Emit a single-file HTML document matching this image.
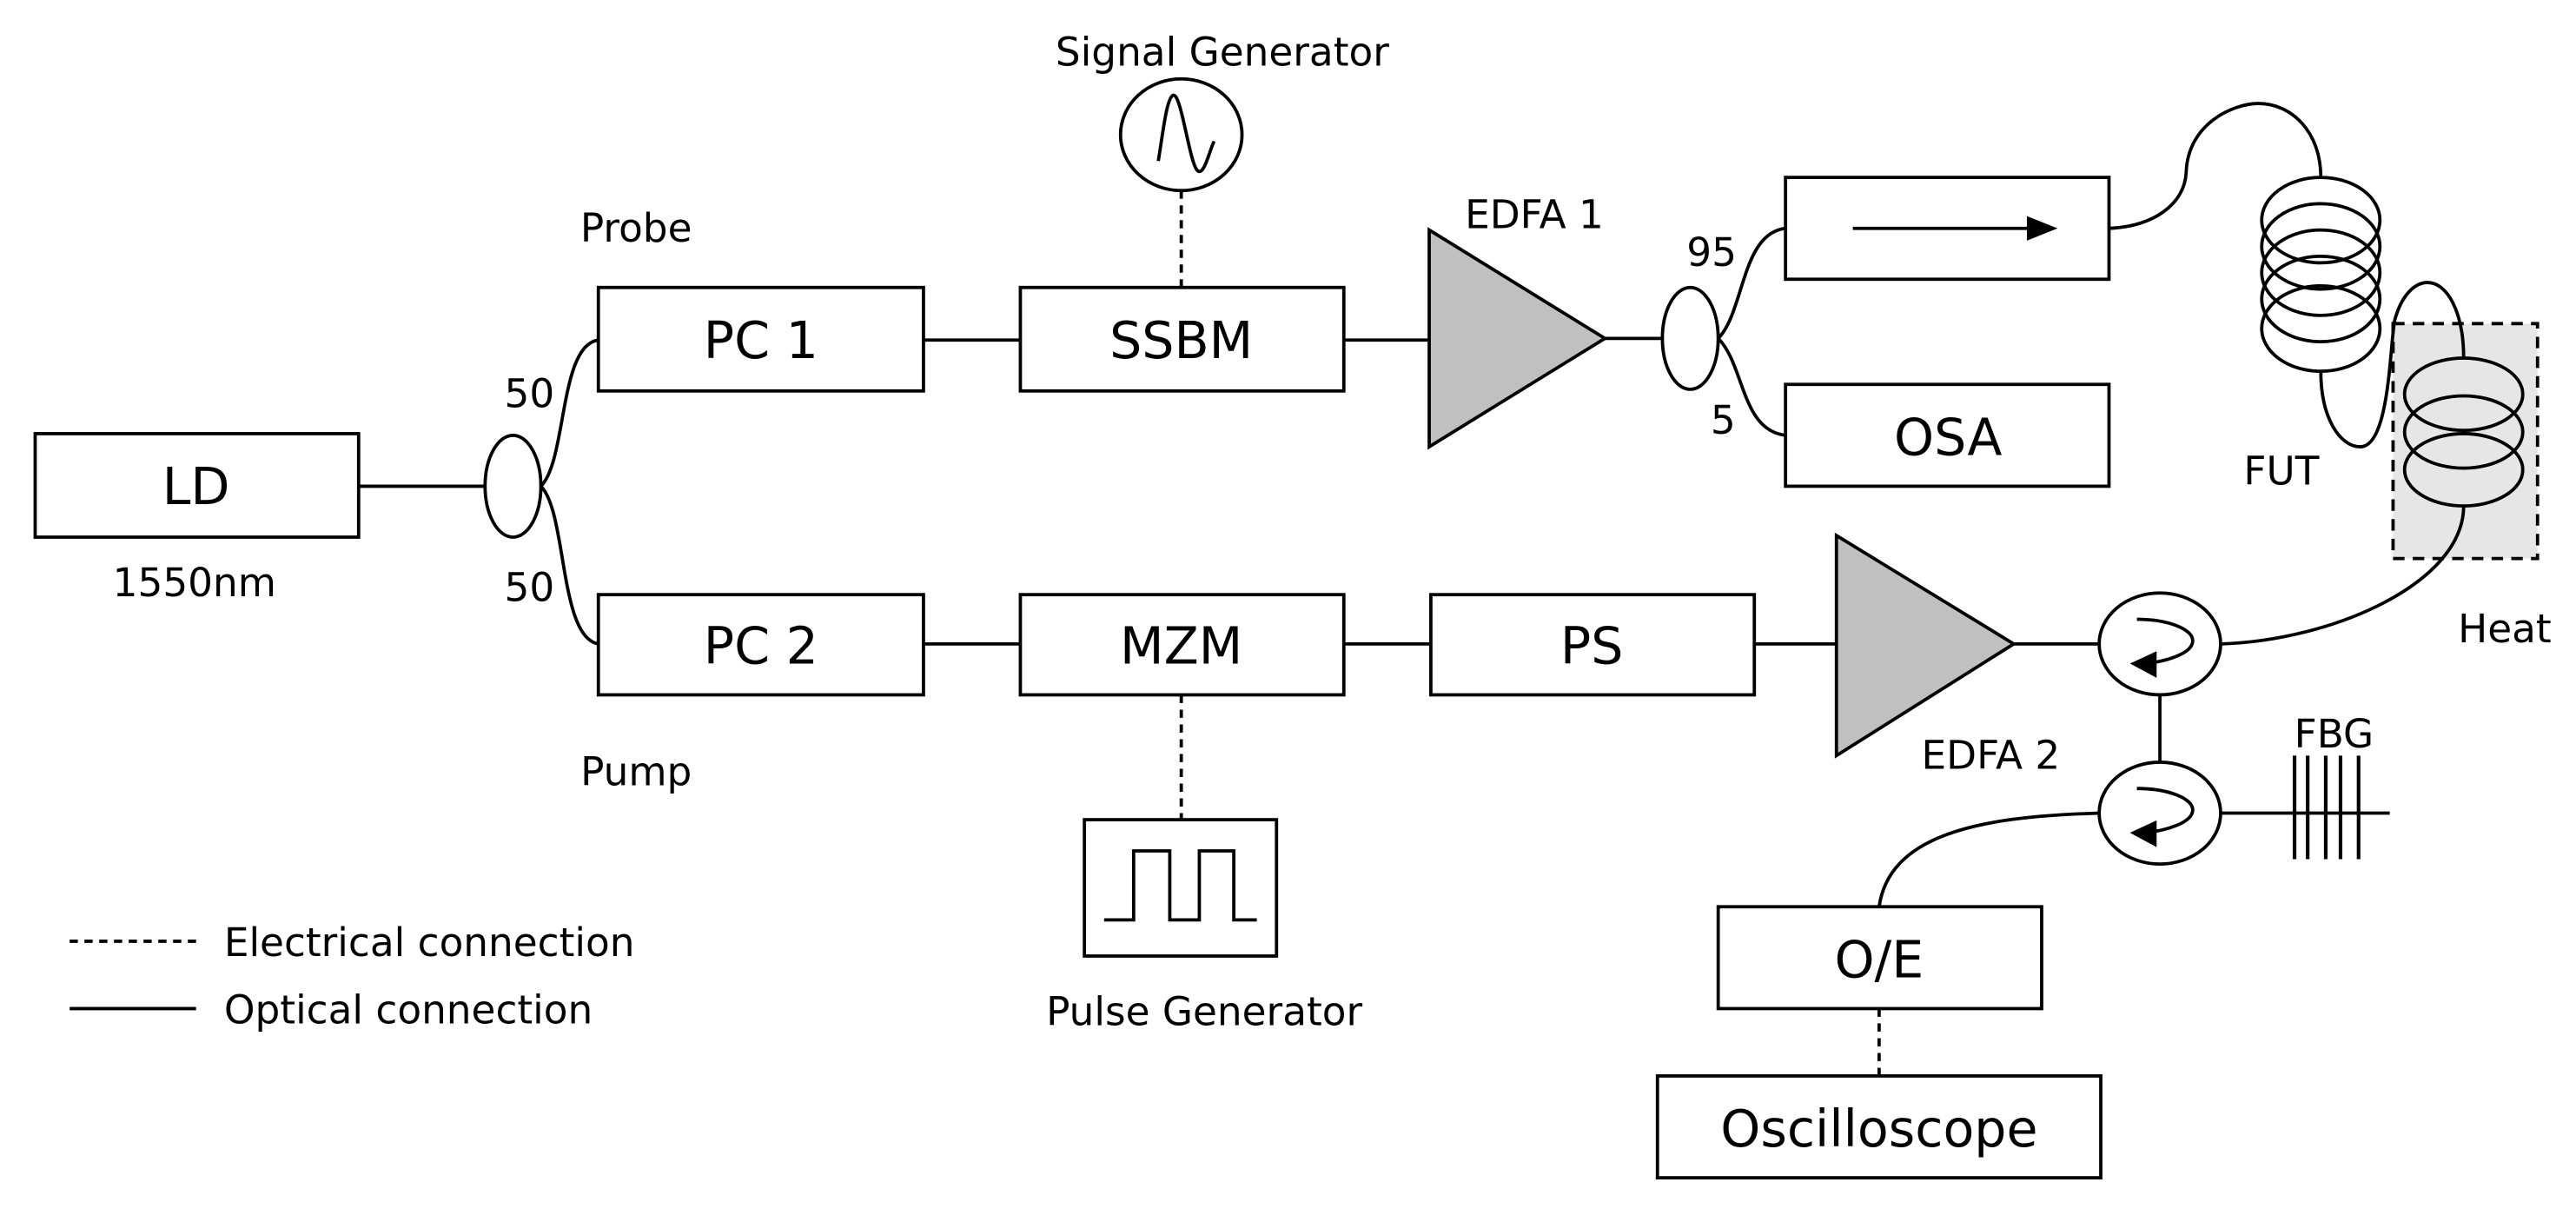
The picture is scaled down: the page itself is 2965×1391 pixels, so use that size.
<!DOCTYPE html>
<html><head><style>html,body{margin:0;padding:0;background:#fff}svg{display:block}</style></head>
<body>
<svg width="2965" height="1391" viewBox="0 0 1568 736" xmlns="http://www.w3.org/2000/svg" font-family="'DejaVu Sans', sans-serif" fill="none" stroke="#000" stroke-width="2">
<rect x="1457" y="197" width="88" height="143" fill="#e6e6e6" stroke-dasharray="7,5"/>
<rect x="21" y="264" width="197" height="63"/>
<rect x="364" y="175" width="198" height="63"/>
<rect x="364" y="362" width="198" height="61"/>
<rect x="621" y="175" width="197" height="63"/>
<rect x="621" y="362" width="197" height="61"/>
<rect x="871" y="362" width="197" height="61"/>
<rect x="1087" y="108" width="197" height="62"/>
<rect x="1087" y="234" width="197" height="62"/>
<rect x="1046" y="552" width="197" height="62"/>
<rect x="1009" y="655" width="270" height="62"/>
<rect x="660" y="499" width="117" height="83"/>
<polyline points="672,560 690,560 690,518 712,518 712,560 730,560 730,518 751,518 751,560 765,560"/>
<line x1="218" y1="296" x2="295" y2="296"/>
<ellipse cx="312" cy="296" rx="17" ry="31"/>
<path d="M329,296 C345,280 340,210 364,207"/>
<path d="M329,296 C345,312 340,388 364,392"/>
<line x1="562" y1="207" x2="621" y2="207"/>
<line x1="818" y1="207" x2="870" y2="207"/>
<line x1="562" y1="392" x2="621" y2="392"/>
<line x1="818" y1="392" x2="871" y2="392"/>
<line x1="1068" y1="392" x2="1118" y2="392"/>
<polygon points="870,140 870,272 977,206" fill="#c0c0c0"/>
<polygon points="1118,326 1118,460 1226,392" fill="#c0c0c0"/>
<line x1="977" y1="206" x2="1012" y2="206"/>
<ellipse cx="1029" cy="206" rx="17" ry="31"/>
<path d="M1046,206 C1062,190 1060,142 1087,139"/>
<path d="M1046,206 C1062,222 1060,262 1087,265"/>
<line x1="1128" y1="139" x2="1238" y2="139"/>
<polygon points="1250,139 1235,133 1235,145" fill="#000"/>
<ellipse cx="719" cy="82" rx="37" ry="34"/>
<path d="M705,98 C708,80 710,60 714,58 C719,56 724,100 729,104 C733,107 736,92 739,86"/>
<line x1="719" y1="116" x2="719" y2="175" stroke-dasharray="5,4"/>
<line x1="719" y1="423" x2="719" y2="499" stroke-dasharray="5,4"/>
<line x1="1144" y1="614" x2="1144" y2="655" stroke-dasharray="5,4"/>
<path d="M1284,139 C1310,138 1330,125 1331,105 C1332,75 1360,63 1375,63 C1395,63 1413,80 1413,108"/>
<ellipse cx="1413" cy="134" rx="36" ry="26"/>
<ellipse cx="1413" cy="150" rx="36" ry="26"/>
<ellipse cx="1413" cy="166" rx="36" ry="26"/>
<ellipse cx="1413" cy="182" rx="36" ry="26"/>
<ellipse cx="1413" cy="200" rx="36" ry="26"/>
<path d="M1413,226 C1413,255 1425,272 1437,272 C1455,272 1455,210 1458,195 C1462,180 1470,172 1478,172 C1490,172 1500,190 1500,218"/>
<ellipse cx="1500" cy="240" rx="36" ry="22" fill="#e6e6e6"/>
<ellipse cx="1500" cy="263" rx="36" ry="22"/>
<ellipse cx="1500" cy="286" rx="36" ry="22"/>
<path d="M1500,308 C1500,355 1420,390 1352,392"/>
<line x1="1226" y1="392" x2="1278" y2="392"/>
<ellipse cx="1315" cy="392" rx="37" ry="31"/>
<ellipse cx="1315" cy="495" rx="37" ry="31"/>
<path d="M1301,377 C1320,377 1335,383 1335,390 C1335,398 1318,403 1305,404"/>
<polygon points="1299,404 1312,398 1312,411" fill="#000"/>
<path d="M1301,480 C1320,480 1335,486 1335,493 C1335,501 1318,506 1305,507"/>
<polygon points="1299,507 1312,501 1312,514" fill="#000"/>
<line x1="1315" y1="423" x2="1315" y2="464"/>
<line x1="1352" y1="495" x2="1455" y2="495"/>
<g stroke-width="2.2">
<line x1="1397" y1="460" x2="1397" y2="523"/>
<line x1="1405" y1="460" x2="1405" y2="523"/>
<line x1="1416" y1="460" x2="1416" y2="523"/>
<line x1="1425" y1="460" x2="1425" y2="523"/>
<line x1="1436" y1="460" x2="1436" y2="523"/>
</g>
<path d="M1278,495 C1200,497 1150,510 1144,552"/>
<line x1="42" y1="573" x2="119" y2="573" stroke-dasharray="5,4"/>
<line x1="42" y1="614" x2="119" y2="614"/>
<g fill="#000" stroke="none" text-anchor="middle" font-size="31">
<text x="119" y="307">LD</text>
<text x="463" y="218">PC 1</text>
<text x="463" y="404">PC 2</text>
<text x="719" y="218">SSBM</text>
<text x="719" y="404">MZM</text>
<text x="969" y="404">PS</text>
<text x="1186" y="277">OSA</text>
<text x="1144" y="595">O/E</text>
<text x="1144" y="698">Oscilloscope</text>
</g>
<g fill="#000" stroke="none" text-anchor="middle" font-size="24">
<text x="118" y="363">1550nm</text>
<text x="744" y="40">Signal Generator</text>
<text x="387" y="147">Probe</text>
<text x="387" y="478">Pump</text>
<text x="322" y="248">50</text>
<text x="322" y="366">50</text>
<text x="934" y="139">EDFA 1</text>
<text x="1042" y="162">95</text>
<text x="1049" y="264">5</text>
<text x="1389" y="295">FUT</text>
<text x="1525" y="391">Heat</text>
<text x="1212" y="468">EDFA 2</text>
<text x="1421" y="455">FBG</text>
<text x="733" y="624">Pulse Generator</text>
<text x="136" y="582" text-anchor="start">Electrical connection</text>
<text x="136" y="623" text-anchor="start">Optical connection</text>
</g>
</svg>
</body></html>
